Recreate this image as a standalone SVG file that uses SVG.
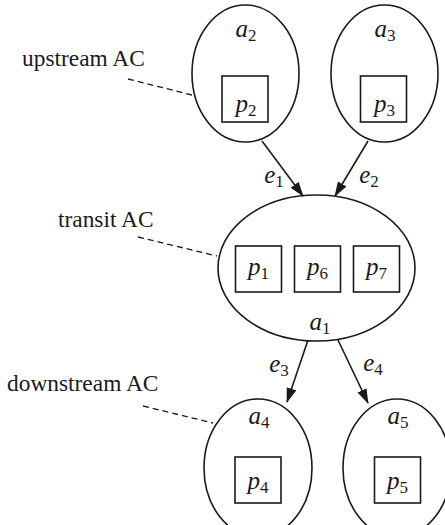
<svg xmlns="http://www.w3.org/2000/svg" width="445" height="525" viewBox="0 0 445 525">
<style>
.ell{fill:none;stroke:#1a1a1a;stroke-width:1.6}
.box{fill:none;stroke:#1a1a1a;stroke-width:1.6}
.lab{font-family:"Liberation Serif",serif;font-style:italic;font-size:25px;fill:#1a1a1a;text-anchor:middle}
.sub{font-style:normal;font-size:17px}
.note{font-family:"Liberation Serif",serif;font-size:23.4px;fill:#1a1a1a}
.lead{stroke:#1a1a1a;stroke-width:1.3;stroke-dasharray:6 4;fill:none}
.edge{stroke:#1a1a1a;stroke-width:1.6;fill:none;marker-end:url(#arr)}
</style>
<defs>
<marker id="arr" viewBox="0 0 15 10" refX="14" refY="5" markerWidth="15" markerHeight="10" markerUnits="userSpaceOnUse" orient="auto">
<path d="M0,0 L15,5 L0,10 Z" fill="#1a1a1a"/>
</marker>
</defs>
<rect width="445" height="525" fill="#fff"/>

<g id="connectors">
<line class="edge" x1="262" y1="141" x2="303" y2="196"/>
<line class="edge" x1="368" y1="141" x2="335" y2="196"/>
<line class="edge" x1="308" y1="340" x2="287" y2="402"/>
<line class="edge" x1="338" y1="340" x2="368" y2="403"/>
<text class="lab" x="274" y="183">e<tspan class="sub" dy="4">1</tspan></text>
<text class="lab" x="369" y="183">e<tspan class="sub" dy="4">2</tspan></text>
<text class="lab" x="279" y="372">e<tspan class="sub" dy="4">3</tspan></text>
<text class="lab" x="373" y="371">e<tspan class="sub" dy="4">4</tspan></text>
</g>

<g id="annotations">
<text class="note" x="22" y="66">upstream AC</text>
<line class="lead" x1="128" y1="79" x2="192" y2="95"/>
<text class="note" x="58" y="227">transit AC</text>
<line class="lead" x1="138" y1="237" x2="217" y2="256"/>
<text class="note" x="7" y="391">downstream AC</text>
<line class="lead" x1="143" y1="406" x2="213" y2="423"/>
</g>

<g id="a2">
<ellipse class="ell" cx="245.5" cy="73.5" rx="53.5" ry="68.5"/>
<text class="lab" x="246" y="37">a<tspan class="sub" dy="4">2</tspan></text>
<rect class="box" x="222" y="76" width="46" height="46"/>
<text class="lab" x="246" y="112">p<tspan class="sub" dy="4">2</tspan></text>
</g>

<g id="a3">
<ellipse class="ell" cx="384.5" cy="73.5" rx="53.5" ry="68.5"/>
<text class="lab" x="385" y="37">a<tspan class="sub" dy="4">3</tspan></text>
<rect class="box" x="360.5" y="76" width="46" height="46"/>
<text class="lab" x="384.5" y="112">p<tspan class="sub" dy="4">3</tspan></text>
</g>

<g id="a1">
<ellipse class="ell" cx="316.5" cy="268" rx="98.5" ry="73"/>
<rect class="box" x="235.5" y="246" width="46" height="46"/>
<text class="lab" x="258.5" y="275">p<tspan class="sub" dy="4">1</tspan></text>
<rect class="box" x="294.5" y="246" width="46" height="46"/>
<text class="lab" x="317.5" y="275">p<tspan class="sub" dy="4">6</tspan></text>
<rect class="box" x="353.5" y="246" width="46" height="46"/>
<text class="lab" x="376.5" y="275">p<tspan class="sub" dy="4">7</tspan></text>
<text class="lab" x="320" y="330">a<tspan class="sub" dy="4">1</tspan></text>
</g>

<g id="a4">
<ellipse class="ell" cx="258" cy="468" rx="54" ry="69"/>
<text class="lab" x="259" y="424">a<tspan class="sub" dy="4">4</tspan></text>
<rect class="box" x="235" y="457" width="46" height="46"/>
<text class="lab" x="258" y="489">p<tspan class="sub" dy="4">4</tspan></text>
</g>

<g id="a5">
<ellipse class="ell" cx="397" cy="468" rx="54" ry="69"/>
<text class="lab" x="398" y="424">a<tspan class="sub" dy="4">5</tspan></text>
<rect class="box" x="374.5" y="457" width="46" height="46"/>
<text class="lab" x="397.5" y="489">p<tspan class="sub" dy="4">5</tspan></text>
</g>
</svg>
